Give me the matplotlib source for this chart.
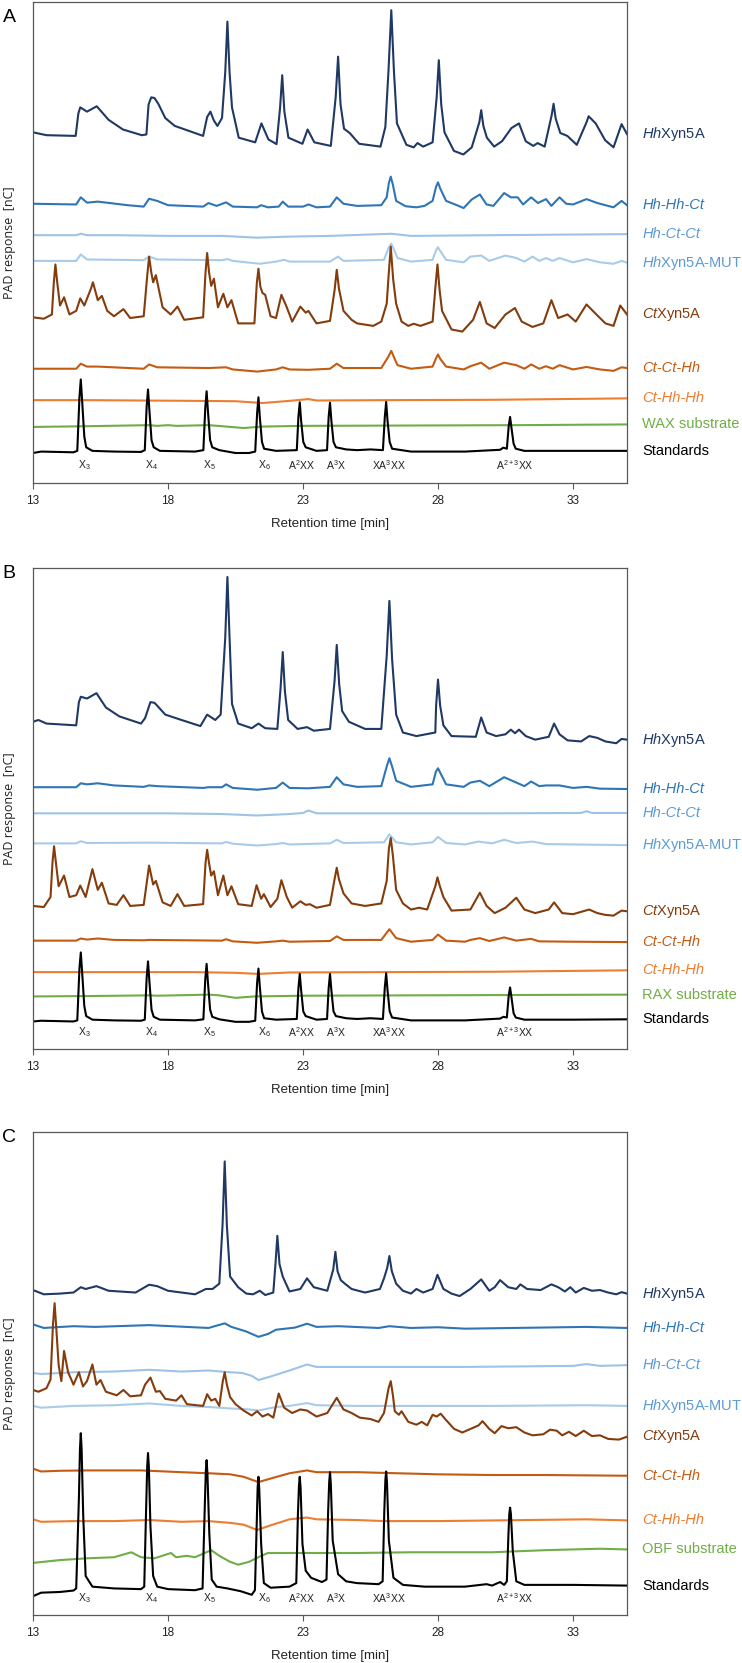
import matplotlib
matplotlib.use('Agg')
import matplotlib.pyplot as plt
from matplotlib import font_manager

# ---- data: (retention time [min], PAD response [arb. nC]) ----
# panel A (WAX)
A_HH = [(13.0, 982), (13.5, 974), (14.58, 972), (14.68, 1035), (14.75, 1052), (15.0, 1040), (15.36, 1055),
        (15.8, 1017), (16.33, 990), (17.03, 974), (17.2, 976), (17.28, 1060), (17.38, 1080), (17.5, 1078),
        (17.64, 1062), (17.9, 1022), (18.25, 1000), (19.3, 972), (19.45, 1025), (19.57, 1040), (19.7, 1015),
        (19.83, 1000), (20.0, 1022), (20.12, 1150), (20.2, 1292), (20.28, 1150), (20.37, 1052), (20.62, 967),
        (21.23, 954), (21.46, 1007), (21.72, 962), (22.02, 949), (22.15, 1050), (22.23, 1142), (22.31, 1040),
        (22.46, 967), (22.98, 950), (23.17, 990), (23.42, 954), (24.03, 944), (24.21, 1080), (24.3, 1194),
        (24.39, 1060), (24.52, 992), (24.73, 980), (25.08, 950), (25.87, 942), (26.05, 997), (26.17, 1160),
        (26.27, 1324), (26.37, 1150), (26.48, 1007), (26.83, 947), (27.1, 940), (27.24, 952), (27.45, 942),
        (27.8, 954), (27.95, 1080), (28.03, 1184), (28.12, 1060), (28.24, 982), (28.59, 930), (28.94, 920),
        (29.25, 940), (29.53, 1010), (29.6, 1044), (29.68, 1000), (29.81, 967), (30.08, 942), (30.37, 957),
        (30.72, 994), (31.0, 1007), (31.25, 957), (31.53, 944), (31.69, 952), (31.95, 942), (32.21, 1030),
        (32.28, 1062), (32.36, 1020), (32.53, 980), (32.79, 972), (33.14, 947), (33.5, 1010), (33.58, 1027),
        (33.84, 1007), (34.19, 960), (34.5, 940), (34.8, 1005), (35.0, 977)]
A_HHHHCT = [(13.0, 782), (14.6, 780), (14.77, 800), (15.0, 785), (15.4, 788), (16.5, 778), (17.1, 774),
            (17.3, 796), (17.6, 790), (18.0, 778), (19.3, 774), (19.5, 784), (19.8, 776), (20.15, 786),
            (20.4, 774), (21.3, 772), (21.45, 778), (21.7, 772), (22.1, 774), (22.25, 788), (22.45, 774),
            (23.0, 774), (23.2, 780), (23.5, 772), (24.0, 774), (24.25, 800), (24.5, 782), (25.0, 776),
            (25.9, 778), (26.1, 800), (26.18, 840), (26.25, 858), (26.33, 835), (26.45, 790), (26.8, 775),
            (27.2, 772), (27.5, 776), (27.8, 790), (27.93, 830), (28.0, 842), (28.08, 825), (28.3, 790),
            (28.7, 778), (28.95, 770), (29.25, 794), (29.55, 808), (29.8, 780), (30.05, 776), (30.45, 812),
            (30.7, 800), (30.95, 800), (31.15, 780), (31.45, 800), (31.7, 784), (32.0, 795), (32.2, 776),
            (32.5, 800), (32.75, 782), (33.0, 780), (33.5, 795), (33.9, 784), (34.5, 772), (34.8, 790),
            (35.0, 778)]
A_HHCTCT = [(13.0, 694), (14.6, 694), (14.77, 698), (15.0, 694), (16.0, 694), (18.0, 692), (20.0, 692),
            (21.3, 687), (22.5, 690), (24.0, 692), (26.27, 698), (27.0, 692), (30.0, 694), (35.0, 697)]
A_MUT = [(13.0, 622), (14.6, 622), (14.77, 640), (15.0, 626), (17.1, 624), (17.3, 634), (17.6, 626),
         (20.0, 624), (20.2, 627), (20.4, 622), (21.4, 614), (22.0, 620), (22.3, 625), (22.5, 620),
         (23.2, 620), (24.0, 620), (24.3, 634), (24.5, 622), (26.0, 625), (26.18, 660), (26.27, 670),
         (26.36, 655), (26.5, 630), (27.0, 620), (27.8, 625), (27.93, 652), (28.0, 660), (28.08, 650),
         (28.3, 625), (28.95, 618), (29.2, 634), (29.6, 637), (29.9, 622), (30.5, 637), (30.9, 630),
         (31.2, 620), (31.5, 634), (31.75, 622), (32.0, 630), (32.25, 622), (32.5, 630), (33.0, 618),
         (33.5, 627), (34.0, 618), (34.5, 614), (34.8, 622), (35.0, 617)]
A_CT = [(13.0, 464), (13.4, 460), (13.7, 472), (13.77, 560), (13.83, 612), (13.9, 560), (14.0, 497),
        (14.15, 520), (14.35, 472), (14.6, 482), (14.75, 517), (14.9, 497), (15.15, 545), (15.22, 562),
        (15.4, 512), (15.55, 524), (15.75, 482), (16.0, 467), (16.35, 487), (16.6, 462), (17.1, 467),
        (17.23, 580), (17.3, 634), (17.38, 590), (17.45, 562), (17.55, 582), (17.8, 492), (18.1, 472),
        (18.35, 494), (18.6, 457), (19.3, 464), (19.39, 590), (19.45, 644), (19.52, 590), (19.6, 552),
        (19.7, 572), (19.85, 492), (20.05, 530), (20.2, 492), (20.35, 512), (20.6, 447), (21.2, 447),
        (21.29, 560), (21.35, 600), (21.42, 550), (21.5, 532), (21.6, 527), (21.8, 467), (22.0, 462),
        (22.2, 527), (22.4, 492), (22.6, 452), (22.9, 494), (23.1, 477), (23.2, 482), (23.5, 447),
        (24.0, 454), (24.17, 540), (24.25, 597), (24.33, 545), (24.5, 482), (24.8, 457), (25.0, 447),
        (25.6, 440), (25.9, 452), (26.1, 502), (26.17, 580), (26.25, 662), (26.34, 570), (26.45, 502),
        (26.65, 452), (26.9, 440), (27.1, 446), (27.35, 440), (27.8, 452), (27.9, 545), (27.98, 612),
        (28.06, 540), (28.15, 482), (28.5, 430), (28.9, 424), (29.3, 457), (29.55, 507), (29.8, 447),
        (30.1, 434), (30.5, 472), (30.85, 490), (31.1, 452), (31.5, 437), (31.9, 447), (32.2, 512),
        (32.45, 462), (32.8, 472), (33.1, 452), (33.5, 500), (33.8, 477), (34.2, 447), (34.5, 440),
        (34.75, 497), (35.0, 472)]
A_CTCTHH = [(13.0, 320), (14.6, 320), (14.77, 334), (15.0, 326), (15.4, 326), (17.1, 320), (17.3, 332),
            (17.6, 324), (19.5, 322), (20.15, 324), (20.4, 318), (21.3, 312), (22.0, 318), (22.25, 324),
            (22.5, 318), (23.2, 317), (24.0, 320), (24.25, 334), (24.5, 322), (25.9, 322), (26.17, 355),
            (26.27, 370), (26.37, 352), (26.5, 330), (27.0, 320), (27.8, 326), (27.93, 350), (28.0, 360),
            (28.08, 348), (28.3, 326), (28.95, 318), (29.2, 327), (29.6, 337), (29.9, 320), (30.45, 337),
            (30.9, 330), (31.2, 320), (31.45, 332), (31.75, 320), (32.0, 327), (32.25, 320), (32.5, 330),
            (33.0, 318), (33.5, 325), (34.0, 318), (34.5, 314), (34.8, 324), (35.0, 322)]
A_CTHHHH = [(13.0, 232), (15.0, 232), (17.0, 231), (19.0, 230), (20.5, 229), (21.5, 224), (22.5, 230),
            (23.2, 235), (23.5, 231), (26.0, 232), (30.0, 233), (35.0, 237)]
A_SUB = [(13.0, 157), (15.0, 159), (17.3, 162), (17.6, 160), (18.0, 162), (18.3, 160), (19.5, 162),
         (20.0, 159), (20.8, 154), (21.5, 158), (23.0, 160), (27.0, 161), (31.0, 162), (35.0, 164)]
A_STD = [(13.0, 84), (13.3, 88), (14.5, 86), (14.64, 90), (14.72, 240), (14.77, 290), (14.82, 230),
         (14.9, 130), (14.97, 100), (15.2, 90), (16.0, 88), (17.0, 87), (17.14, 92), (17.21, 215),
         (17.26, 262), (17.31, 205), (17.39, 120), (17.47, 100), (17.7, 90), (19.0, 88), (19.31, 92),
         (19.38, 210), (19.43, 257), (19.48, 200), (19.56, 120), (19.64, 100), (19.9, 92), (20.5, 84),
         (21.0, 84), (21.23, 88), (21.3, 195), (21.35, 240), (21.4, 185), (21.48, 115), (21.56, 96),
         (22.0, 90), (22.77, 92), (22.83, 185), (22.88, 226), (22.93, 175), (23.01, 115), (23.1, 100),
         (23.5, 90), (23.89, 92), (23.95, 185), (24.0, 225), (24.05, 175), (24.13, 115), (24.22, 100),
         (24.6, 94), (25.0, 92), (25.5, 94), (25.96, 92), (26.03, 185), (26.08, 227), (26.13, 175),
         (26.21, 115), (26.3, 96), (27.0, 88), (29.0, 88), (30.3, 93), (30.42, 99), (30.55, 96),
         (30.62, 160), (30.67, 185), (30.72, 155), (30.8, 110), (30.88, 96), (31.2, 90), (33.0, 90),
         (35.0, 90)]

# panel B (RAX)
B_HH = [(13.0, 915), (13.2, 920), (13.5, 910), (14.6, 905), (14.7, 970), (14.77, 985), (15.0, 980),
        (15.35, 995), (15.7, 955), (16.2, 930), (17.0, 910), (17.15, 925), (17.35, 970), (17.5, 968),
        (17.6, 960), (17.9, 935), (18.5, 920), (19.2, 903), (19.45, 935), (19.75, 920), (19.95, 935),
        (20.12, 1150), (20.2, 1320), (20.28, 1150), (20.37, 965), (20.6, 910), (21.1, 897), (21.35, 910),
        (21.6, 897), (22.05, 895), (22.17, 1010), (22.25, 1110), (22.33, 1000), (22.45, 920), (22.8, 895),
        (23.15, 900), (23.4, 890), (24.0, 895), (24.17, 1030), (24.25, 1130), (24.34, 1020), (24.45, 945),
        (24.7, 915), (25.3, 895), (25.9, 895), (26.1, 1100), (26.2, 1253), (26.3, 1090), (26.45, 935),
        (26.7, 885), (27.2, 875), (27.9, 885), (27.93, 960), (28.0, 1033), (28.08, 960), (28.2, 905),
        (28.5, 875), (29.4, 873), (29.6, 927), (29.8, 885), (30.15, 875), (30.5, 880), (30.7, 893),
        (30.85, 883), (31.0, 893), (31.25, 875), (31.6, 865), (32.1, 873), (32.3, 910), (32.5, 880),
        (32.8, 863), (33.3, 860), (33.6, 875), (33.9, 870), (34.2, 860), (34.6, 855), (34.8, 867),
        (35.0, 865)]
B_HHHHCT = [(13.0, 732), (14.6, 732), (14.77, 743), (15.0, 740), (15.4, 743), (16.0, 737), (17.1, 733),
            (17.3, 737), (17.6, 735), (19.3, 730), (19.5, 732), (20.0, 732), (20.15, 740), (20.4, 730),
            (21.3, 725), (22.0, 730), (22.25, 745), (22.5, 730), (23.2, 729), (24.0, 733), (24.25, 760),
            (24.5, 740), (25.0, 733), (25.9, 735), (26.1, 790), (26.2, 813), (26.3, 790), (26.45, 750),
            (27.0, 733), (27.8, 740), (27.92, 775), (28.0, 785), (28.1, 770), (28.3, 740), (28.95, 733),
            (29.2, 745), (29.55, 750), (29.9, 735), (30.45, 760), (30.9, 745), (31.2, 735), (31.45, 748),
            (31.75, 735), (32.0, 737), (32.5, 737), (33.0, 730), (33.5, 733), (34.0, 728), (35.0, 727)]
B_HHCTCT = [(13.0, 659), (15.0, 659), (18.0, 659), (20.0, 657), (21.3, 653), (22.5, 657), (23.0, 660),
            (23.2, 667), (23.5, 659), (26.0, 659), (30.0, 659), (33.3, 660), (33.5, 665), (33.7, 660),
            (35.0, 660)]
B_MUT = [(13.0, 575), (14.6, 575), (14.77, 581), (15.0, 576), (17.3, 577), (20.0, 575), (20.15, 579),
         (20.4, 574), (21.3, 569), (22.0, 573), (22.25, 576), (22.5, 572), (24.0, 575), (24.25, 585),
         (24.5, 576), (26.0, 578), (26.2, 600), (26.45, 578), (27.0, 572), (27.8, 578), (28.0, 593),
         (28.3, 576), (29.0, 572), (29.5, 580), (30.0, 575), (30.45, 585), (30.9, 576), (31.5, 580),
         (32.0, 573), (35.0, 570)]
B_CT = [(13.0, 400), (13.4, 397), (13.65, 425), (13.72, 520), (13.78, 567), (13.85, 520), (13.95, 455),
        (14.15, 485), (14.35, 425), (14.6, 430), (14.75, 457), (14.95, 425), (15.2, 503), (15.4, 445),
        (15.55, 465), (15.8, 407), (16.1, 403), (16.35, 430), (16.6, 400), (17.1, 403), (17.3, 513),
        (17.45, 460), (17.55, 470), (17.8, 410), (18.1, 400), (18.35, 433), (18.6, 400), (19.3, 405),
        (19.39, 520), (19.45, 557), (19.52, 520), (19.6, 485), (19.7, 497), (19.85, 430), (20.05, 485),
        (20.2, 430), (20.35, 455), (20.6, 405), (21.1, 400), (21.28, 458), (21.45, 420), (21.55, 433),
        (21.8, 397), (22.05, 420), (22.2, 472), (22.4, 425), (22.6, 395), (22.9, 413), (23.1, 403),
        (23.25, 405), (23.5, 395), (24.0, 403), (24.17, 475), (24.25, 507), (24.33, 475), (24.5, 435),
        (24.8, 407), (25.3, 400), (25.9, 407), (26.1, 470), (26.18, 560), (26.25, 590), (26.33, 540),
        (26.45, 445), (26.7, 407), (27.0, 390), (27.3, 395), (27.6, 390), (27.9, 455), (27.98, 480),
        (28.07, 455), (28.2, 425), (28.5, 387), (29.2, 390), (29.55, 437), (29.8, 400), (30.1, 380),
        (30.5, 395), (30.9, 423), (31.2, 390), (31.6, 380), (32.1, 390), (32.3, 410), (32.6, 380),
        (33.0, 377), (33.6, 390), (33.9, 380), (34.2, 375), (34.5, 373), (34.8, 387), (35.0, 385)]
B_CTCTHH = [(13.0, 303), (14.6, 303), (14.77, 309), (15.0, 306), (15.4, 309), (16.0, 305), (17.1, 304),
            (17.3, 305), (20.0, 303), (20.15, 307), (20.4, 301), (21.3, 297), (22.0, 301), (22.25, 303),
            (22.5, 300), (24.0, 302), (24.25, 315), (24.5, 305), (25.9, 305), (26.2, 335), (26.45, 310),
            (27.0, 300), (27.8, 305), (28.0, 320), (28.3, 303), (29.0, 300), (29.2, 305), (29.55, 310),
            (29.9, 302), (30.45, 312), (30.9, 303), (31.45, 308), (31.75, 301), (33.0, 300), (35.0, 299)]
B_CTHHHH = [(13.0, 215), (15.0, 215), (17.0, 215), (19.0, 215), (20.5, 213), (21.35, 210),
            (22.5, 214), (26.0, 215), (30.0, 216), (35.0, 220)]
B_SUB = [(13.0, 147), (15.0, 148), (17.3, 150), (17.6, 149), (19.5, 152), (19.9, 150), (20.5, 143),
         (21.2, 147), (23.0, 149), (27.0, 150), (31.0, 151), (35.0, 152)]
B_STD = [(13.0, 77), (13.3, 79), (14.5, 77), (14.64, 80), (14.72, 225), (14.77, 270), (14.82, 215),
         (14.9, 120), (14.97, 92), (15.2, 82), (16.0, 80), (17.0, 79), (17.14, 82), (17.21, 200),
         (17.26, 245), (17.31, 190), (17.39, 110), (17.47, 90), (17.7, 82), (19.0, 80), (19.31, 83),
         (19.38, 195), (19.43, 238), (19.48, 185), (19.56, 110), (19.64, 90), (19.9, 83), (20.5, 76),
         (21.0, 76), (21.23, 79), (21.3, 185), (21.35, 225), (21.4, 175), (21.48, 105), (21.56, 86),
         (22.0, 82), (22.77, 84), (22.83, 170), (22.88, 210), (22.93, 165), (23.01, 105), (23.1, 92),
         (23.5, 82), (23.89, 84), (23.95, 170), (24.0, 210), (24.05, 165), (24.13, 105), (24.22, 92),
         (24.6, 86), (25.0, 84), (25.5, 86), (25.96, 84), (26.03, 172), (26.08, 212), (26.13, 165),
         (26.21, 105), (26.3, 88), (27.0, 80), (29.0, 80), (30.3, 85), (30.42, 90), (30.55, 88),
         (30.62, 150), (30.67, 172), (30.72, 145), (30.8, 100), (30.88, 88), (31.2, 82), (33.0, 82),
         (35.0, 83)]

# panel C (OBF)
C_HH = [(13.0, 917), (13.4, 905), (14.0, 907), (14.5, 910), (14.77, 925), (14.95, 920), (15.35, 928),
        (15.8, 915), (16.8, 910), (17.3, 932), (17.6, 928), (18.0, 915), (19.0, 905), (19.4, 920),
        (19.65, 920), (19.9, 935), (20.02, 1100), (20.1, 1280), (20.18, 1100), (20.3, 955), (20.6, 925),
        (20.9, 907), (21.15, 905), (21.4, 915), (21.6, 903), (21.9, 910), (21.98, 990), (22.05, 1070),
        (22.13, 990), (22.25, 955), (22.5, 913), (22.9, 920), (23.15, 950), (23.4, 925), (23.9, 915),
        (24.12, 975), (24.2, 1025), (24.28, 970), (24.4, 945), (24.55, 935), (24.8, 920), (25.3, 910),
        (25.85, 920), (26.0, 950), (26.12, 980), (26.2, 1013), (26.29, 970), (26.45, 935), (26.7, 915),
        (27.0, 907), (27.2, 920), (27.45, 910), (27.8, 920), (27.98, 960), (28.2, 920), (28.5, 907),
        (28.8, 900), (29.2, 920), (29.6, 947), (29.9, 915), (30.1, 925), (30.3, 945), (30.6, 925),
        (30.9, 920), (31.05, 933), (31.3, 920), (31.8, 917), (32.2, 933), (32.45, 925), (32.7, 913),
        (32.9, 925), (33.1, 910), (33.4, 923), (33.7, 915), (34.0, 917), (34.3, 910), (34.6, 905),
        (34.8, 911), (35.0, 907)]
C_HHHHCT = [(13.0, 820), (13.4, 810), (14.5, 815), (15.3, 813), (17.3, 818), (19.5, 810), (20.1, 823),
            (20.35, 813), (20.9, 800), (21.35, 785), (21.7, 793), (22.0, 805), (22.7, 811), (23.15, 822),
            (23.5, 813), (24.3, 815), (25.8, 810), (26.2, 815), (27.0, 810), (28.0, 812), (29.0, 808),
            (33.5, 813), (35.0, 810)]
C_HHCTCT = [(13.0, 683), (13.3, 680), (14.5, 685), (16.0, 687), (17.3, 692), (18.5, 687), (19.5, 690),
            (20.3, 685), (20.75, 683), (21.1, 675), (21.35, 663), (21.8, 673), (22.5, 690), (23.15, 707),
            (23.5, 700), (25.0, 700), (27.0, 700), (29.0, 700), (33.0, 703), (33.5, 708), (34.0, 703),
            (35.0, 705)]
C_MUT = [(13.0, 590), (13.3, 585), (14.5, 590), (16.0, 592), (17.3, 597), (18.5, 590), (19.5, 587),
         (20.3, 583), (21.0, 580), (21.35, 577), (22.0, 587), (22.5, 590), (23.15, 598), (23.5, 592),
         (25.0, 590), (30.0, 590), (33.5, 592), (35.0, 590)]
C_CT = [(13.0, 635), (13.2, 630), (13.5, 640), (13.65, 665), (13.74, 820), (13.8, 880), (13.87, 800),
        (13.95, 705), (14.05, 660), (14.15, 745), (14.3, 685), (14.5, 650), (14.7, 685), (14.85, 645),
        (15.0, 660), (15.2, 707), (15.35, 650), (15.5, 663), (15.7, 630), (16.1, 620), (16.35, 635),
        (16.6, 617), (17.0, 620), (17.15, 650), (17.35, 670), (17.55, 630), (17.7, 632), (17.9, 610),
        (18.3, 605), (18.5, 620), (18.7, 595), (19.3, 590), (19.45, 623), (19.6, 605), (19.75, 610),
        (19.9, 590), (20.03, 660), (20.1, 685), (20.18, 650), (20.3, 615), (20.5, 595), (20.8, 577),
        (21.1, 563), (21.3, 575), (21.5, 560), (21.7, 567), (21.9, 557), (22.1, 625), (22.3, 585),
        (22.6, 570), (22.9, 580), (23.15, 577), (23.5, 560), (23.9, 570), (24.25, 613), (24.5, 580),
        (24.8, 570), (25.1, 557), (25.5, 553), (25.8, 545), (26.0, 570), (26.17, 640), (26.25, 660),
        (26.33, 620), (26.4, 575), (26.55, 565), (26.65, 575), (26.9, 545), (27.2, 537), (27.4, 545),
        (27.6, 535), (27.8, 565), (27.95, 560), (28.1, 568), (28.3, 550), (28.6, 525), (28.9, 515),
        (29.2, 525), (29.5, 535), (29.65, 547), (29.9, 525), (30.1, 513), (30.35, 533), (30.6, 527),
        (30.9, 530), (31.2, 515), (31.5, 507), (31.9, 510), (32.15, 523), (32.4, 520), (32.6, 507),
        (32.85, 517), (33.1, 505), (33.4, 520), (33.7, 505), (34.0, 507), (34.3, 497), (34.7, 495),
        (35.0, 503)]
C_CTCTHH = [(13.0, 413), (13.3, 405), (14.0, 407), (15.0, 408), (17.0, 408), (18.5, 403), (19.5, 400),
            (20.3, 397), (20.8, 390), (21.35, 375), (21.8, 385), (22.5, 400), (23.15, 408), (23.5, 403),
            (25.0, 403), (26.0, 401), (28.0, 397), (30.0, 395), (32.0, 395), (35.0, 393)]
C_CTHHHH = [(13.0, 270), (13.3, 263), (14.5, 265), (16.0, 265), (17.3, 268), (18.5, 263), (19.5, 265),
            (20.3, 260), (20.8, 255), (21.3, 240), (21.8, 253), (22.5, 270), (23.15, 275), (23.5, 270),
            (25.0, 268), (26.0, 265), (28.0, 265), (33.5, 270), (35.0, 267)]
C_SUB = [(13.0, 147), (14.0, 155), (15.0, 160), (16.0, 163), (16.64, 177), (17.0, 163), (17.5, 160),
         (18.11, 175), (18.3, 163), (18.7, 167), (19.0, 163), (19.6, 183), (19.9, 167), (20.3, 150),
         (20.6, 142), (21.0, 150), (21.4, 165), (21.7, 175), (22.5, 175), (25.0, 175), (27.0, 177),
         (30.0, 177), (32.0, 183), (33.0, 185), (34.0, 187), (35.0, 185)]
C_STD = [(13.0, 53), (13.3, 63), (14.0, 65), (14.5, 69), (14.6, 75), (14.7, 330), (14.74, 470),
         (14.77, 513), (14.8, 470), (14.86, 280), (14.95, 110), (15.2, 80), (16.0, 75), (17.0, 73),
         (17.12, 80), (17.19, 300), (17.23, 420), (17.26, 457), (17.29, 420), (17.35, 250), (17.45, 110),
         (17.6, 80), (18.0, 73), (19.0, 70), (19.28, 75), (19.36, 300), (19.4, 405), (19.43, 437),
         (19.46, 400), (19.53, 230), (19.62, 100), (19.8, 80), (20.2, 75), (20.7, 67), (21.1, 57),
         (21.22, 70), (21.29, 270), (21.32, 360), (21.35, 390), (21.38, 355), (21.45, 200), (21.55, 90),
         (21.8, 77), (22.5, 80), (22.75, 90), (22.81, 280), (22.85, 365), (22.88, 390), (22.91, 360),
         (22.98, 200), (23.1, 125), (23.3, 105), (23.7, 93), (23.87, 100), (23.93, 290), (23.97, 375),
         (24.0, 403), (24.03, 370), (24.1, 210), (24.3, 115), (24.6, 95), (25.0, 90), (25.8, 87),
         (25.95, 95), (26.01, 290), (26.05, 380), (26.08, 405), (26.11, 375), (26.18, 210), (26.35, 105),
         (26.7, 85), (27.5, 80), (29.0, 80), (29.8, 87), (30.0, 83), (30.3, 93), (30.45, 85),
         (30.55, 95), (30.61, 230), (30.64, 285), (30.67, 303), (30.7, 285), (30.77, 180), (30.9, 95),
         (31.2, 85), (33.0, 85), (35.0, 83)]

TRACE_NAMES = [r'$\mathit{Hh}$Xyn5A', 'Hh-Hh-Ct', 'Hh-Ct-Ct', r'$\mathit{Hh}$Xyn5A-MUT',
               r'$\mathit{Ct}$Xyn5A', 'Ct-Ct-Hh', 'Ct-Hh-Hh', None, 'Standards']
TRACE_ITALIC = [False, True, True, False, False, True, True, False, False]
SUBSTRATES = ['WAX substrate', 'RAX substrate', 'OBF substrate']
PANELS = ['A', 'B', 'C']
PANEL_DATA = [
    [A_HH, A_HHHHCT, A_HHCTCT, A_MUT, A_CT, A_CTCTHH, A_CTHHHH, A_SUB, A_STD],
    [B_HH, B_HHHHCT, B_HHCTCT, B_MUT, B_CT, B_CTCTHH, B_CTHHHH, B_SUB, B_STD],
    [C_HH, C_HHHHCT, C_HHCTCT, C_MUT, C_CT, C_CTCTHH, C_CTHHHH, C_SUB, C_STD],
]
STD_NAMES = ['X$_3$', 'X$_4$', 'X$_5$', 'X$_6$', 'A$^2$XX', 'A$^3$X', 'XA$^3$XX', 'A$^{2+3}$XX']
STD_LABEL_T = [14.9, 17.38, 19.53, 21.56, 22.93, 24.23, 26.2, 30.83]
XTICKS = [13, 18, 23, 28, 33]

# ---- style ----
LINE_COLORS = ['#1F3864', '#2E75B6', '#9DC3E6', '#A9CBEA', '#843C0C', '#C55A11', '#ED7D31', '#70AD47', '#000000']
TEXT_COLORS = ['#1F3864', '#2E75B6', '#5B9BD5', '#5B9BD5', '#843C0C', '#C55A11', '#ED7D31', '#70AD47', '#000000']
YTOP = [1347, 1345, 1363]
STD_LABEL_V = [50, 47, 47]
AX_BOXES = [(33, 2, 483), (33, 568, 1049), (33, 1132, 1615)]   # left, top, bottom in px
LETTER_Y = [17, 573, 1138]

names = {f.name for f in font_manager.fontManager.ttflist}
FONT = 'Liberation Sans' if 'Liberation Sans' in names else 'DejaVu Sans'
YFONT = 'Open Sans' if 'Open Sans' in names else FONT
plt.rcParams['font.family'] = [FONT, 'DejaVu Sans']
plt.rcParams['mathtext.fontset'] = 'custom'
plt.rcParams['mathtext.rm'] = FONT
plt.rcParams['mathtext.it'] = FONT + ':italic'

W, H = 742, 1663
fig = plt.figure(figsize=(W / 100, H / 100), dpi=100)

for p in range(3):
    left, top, bottom = AX_BOXES[p]
    ax = fig.add_axes([left / W, 1 - bottom / H, 594 / W, (bottom - top) / H])
    for i, trace in enumerate(PANEL_DATA[p]):
        t = [pt[0] for pt in trace]
        v = [pt[1] for pt in trace]
        ax.plot(t, v, color=LINE_COLORS[i], lw=1.5, solid_joinstyle='round')
        label = TRACE_NAMES[i] if TRACE_NAMES[i] else SUBSTRATES[p]
        ax.text(1.026, v[-1], label, transform=ax.get_yaxis_transform(), color=TEXT_COLORS[i],
                fontsize=10.5, style='italic' if TRACE_ITALIC[i] else 'normal', va='center', ha='left')
    for name, tl in zip(STD_NAMES, STD_LABEL_T):
        ax.text(tl, STD_LABEL_V[p], name, fontsize=7.5, ha='center', va='center', color='#222222')

    ax.set_xlim(13, 35)
    ax.set_ylim(0, YTOP[p])
    ax.set_xticks(XTICKS)
    ax.set_yticks([])
    ax.tick_params(axis='x', direction='out', length=4.5, width=0.8, pad=4, labelsize=8.5,
                   colors='#595959', labelcolor='#222222')
    for s in ax.spines.values():
        s.set_color('#595959')
        s.set_linewidth(0.9)
    ax.set_xlabel('Retention time [min]', fontsize=9.5, color='#222222')
    ax.xaxis.set_label_coords(0.5, -0.072)
    ax.set_ylabel('PAD response  [nC]', fontsize=9, family=YFONT, color='#222222')
    ax.yaxis.set_label_coords(-0.029, 0.5)

    fig.text(9 / W, 1 - LETTER_Y[p] / H, PANELS[p], fontsize=14, ha='center', va='center')

fig.savefig('out.png', dpi=100)
